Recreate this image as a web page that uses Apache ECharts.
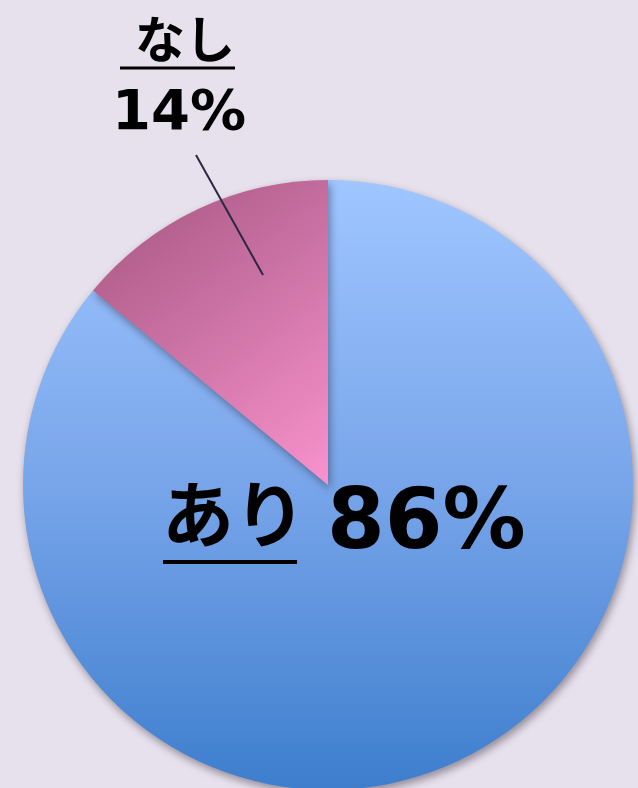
<!DOCTYPE html>
<html>
<head>
<meta charset="utf-8">
<style>
  html, body { margin: 0; padding: 0; background: #e6e1ec; }
  #chart { width: 638px; height: 788px; }
</style>
<script src="https://cdn.jsdelivr.net/npm/echarts@6/dist/echarts.min.js"></script>
</head>
<body>
<div id="chart"></div>
<script>
// 回答の内訳
const categories = ['あり', 'なし'];
const shares = [86, 14];

const chart = echarts.init(document.getElementById('chart'), null, { renderer: 'canvas' });

const kanaFont = '"Noto Sans CJK JP", sans-serif';
const numFont = '"DejaVu Sans", sans-serif';

const sliceStyles = [
  {
    color: new echarts.graphic.LinearGradient(0, 0, 0, 1, [
      { offset: 0, color: '#9fc6ff' },
      { offset: 0.5, color: '#78a5ea' },
      { offset: 1, color: '#3d7ecd' }
    ])
  },
  {
    color: new echarts.graphic.LinearGradient(0, 0, 1, 1, [
      { offset: 0, color: '#a3557f' },
      { offset: 1, color: '#f892cd' }
    ])
  }
];

const pieData = categories.map((name, i) => ({
  name: name,
  value: shares[i],
  itemStyle: sliceStyles[i]
}));

function pct(i) { return shares[i] + '%'; }

chart.setOption({
  backgroundColor: '#e6e1ec',
  animation: false,
  series: [{
    type: 'pie',
    center: [328, 485],
    radius: [0, 305],
    startAngle: 90,
    clockwise: true,
    silent: true,
    z: 1,
    label: { show: false },
    labelLine: { show: false },
    itemStyle: {
      borderWidth: 0,
      shadowBlur: 8,
      shadowOffsetX: 2,
      shadowOffsetY: 4,
      shadowColor: 'rgba(40, 30, 50, 0.45)'
    },
    data: pieData
  }],
  graphic: {
    elements: [
      // なし のラベル
      {
        type: 'text', left: 135, top: 14, z: 100,
        style: { text: categories[1], font: 'bold 50px ' + kanaFont, fill: '#000' }
      },
      {
        type: 'line', shape: { x1: 120, y1: 68, x2: 235, y2: 68 }, z: 100,
        style: { stroke: '#000', lineWidth: 3 }
      },
      {
        type: 'text', left: 112, top: 86, z: 100,
        style: { text: pct(1), font: 'bold 56px ' + numFont, fill: '#000' }
      },
      {
        type: 'line', shape: { x1: 196, y1: 155, x2: 263, y2: 275 }, z: 100,
        style: { stroke: '#2c2842', lineWidth: 2 }
      },
      // あり のラベル
      {
        type: 'text', left: 162, top: 478, z: 100,
        style: { text: categories[0], font: 'bold 72px ' + kanaFont, fill: '#000' }
      },
      {
        type: 'line', shape: { x1: 163, y1: 562, x2: 297, y2: 562 }, z: 100,
        style: { stroke: '#000', lineWidth: 4 }
      },
      {
        type: 'text', left: 327, top: 485, z: 100,
        style: { text: pct(0), font: 'bold 83px ' + numFont, fill: '#000' }
      }
    ]
  }
});
</script>
</body>
</html>
